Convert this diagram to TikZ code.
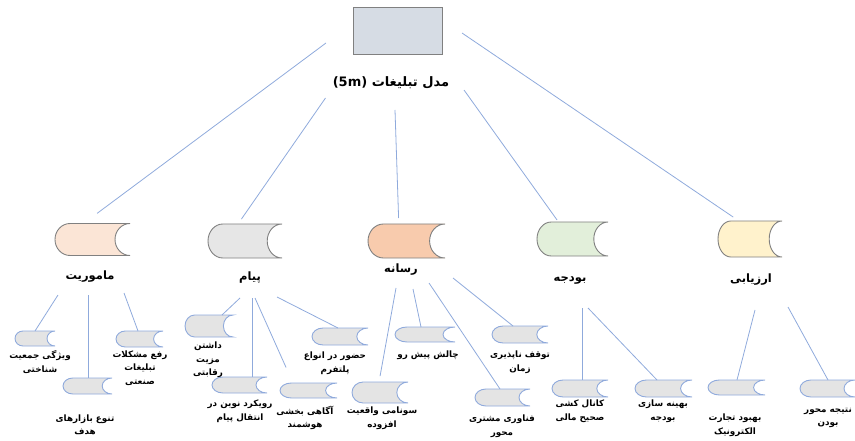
\documentclass[tikz,border=0pt]{standalone}
\usepackage{fontspec}
\usepackage{tikz}
\usetikzlibrary{positioning,calc}
\TeXXeTstate=1
\newfontfamily\fafont[Script=Arabic]{DejaVu Sans}
\newcommand{\fa}[1]{\beginR #1\endR}

\definecolor{linkblue}{HTML}{8FAADC}
\definecolor{topgray}{HTML}{D6DCE4}
\definecolor{subgray}{HTML}{E4E4E4}
\definecolor{mamfill}{HTML}{FBE5D6}
\definecolor{payfill}{HTML}{E6E6E6}
\definecolor{resfill}{HTML}{F8CBAD}
\definecolor{budfill}{HTML}{E2EFDA}
\definecolor{arzfill}{HTML}{FFF2CC}

\tikzset{
  link/.style={draw=linkblue, line width=0.8pt},
  topbox/.style={draw=black!50, fill=topgray, line width=1pt},
  catshape/.style={draw=black!50, line width=0.9pt},
  subshape/.style={draw=linkblue, fill=subgray, line width=0.9pt},
  sdbox/.style={inner sep=0pt, outer sep=0pt},
  catlabel/.style={font=\fafont\bfseries\fontsize{11.5}{13}\selectfont},
  sublabel/.style={font=\fafont\bfseries\fontsize{8.8}{13.5}\selectfont, align=center},
}

% stored data shape: name, x, y, width, height, style
\newcommand{\stored}[6]{%
  \node[sdbox, minimum width=#4pt, minimum height=#5pt] (#1) at (#2,#3) {};
  \draw[#6] ($(#1.north west)+({0.2*#4},0)$) -- (#1.north east)
    arc[start angle=90, end angle=270, x radius={0.2*#4pt}, y radius={#5pt/2}]
    -- ($(#1.south west)+({0.2*#4},0)$)
    arc[start angle=270, end angle=90, x radius={0.2*#4pt}, y radius={#5pt/2}] -- cycle;
}

\begin{document}
\begin{tikzpicture}[x=1pt, y=1pt]
  \useasboundingbox (0,0) rectangle (855,440);

  % Top of the model
  \node[topbox, minimum width=89pt, minimum height=47pt] (model) at (397.5,408.5) {};
  \node[catlabel, font=\fafont\bfseries\fontsize{13}{15}\selectfont] (title) at (391,357) {(5m) \fa{مدل تبلیغات}};

  % Five parts
  \stored{mam}{92.5}{200.5}{75}{32}{catshape, fill=mamfill}
  \stored{pay}{245}{199}{74}{34}{catshape, fill=payfill}
  \stored{res}{406.5}{199}{77}{34}{catshape, fill=resfill}
  \stored{bud}{572.5}{201}{71}{34}{catshape, fill=budfill}
  \stored{arz}{750}{201}{64}{36}{catshape, fill=arzfill}

  \node[catlabel] (mamlbl) at (90,163) {\fa{ماموریت}};
  \node[catlabel] (paylbl) at (250,162) {\fa{پیام}};
  \node[catlabel] (reslbl) at (401,170) {\fa{رسانه}};
  \node[catlabel] (budlbl) at (570,159) {\fa{بودجه}};
  \node[catlabel] (arzlbl) at (751,160) {\fa{ارزیابی}};

  % Links from the top
  \coordinate (t1) at (326,397);
  \coordinate (t2) at (325.5,342);
  \coordinate (t3) at (395,330);
  \coordinate (t4) at (464,350);
  \coordinate (t5) at (462,407);
  \draw[link, shorten >=17pt] (t1) -- ([xshift=-9pt]mam.north);
  \draw[link, shorten >=6pt] (t2) -- ([xshift=-7pt]pay.north);
  \draw[link, shorten >=6pt] (t3) -- ([xshift=-7.7pt]res.north);
  \draw[link, shorten >=2.5pt] (t4) -- ([xshift=-14pt]bud.north);
  \draw[link, shorten >=7pt] (t5) -- ([xshift=-11pt]arz.north);

  % Mission
  \stored{mam1}{35}{101.5}{40}{15}{subshape}
  \stored{mam2}{87.5}{54}{49}{16}{subshape}
  \stored{mam3}{139.5}{101}{47}{16}{subshape}
  \node[sublabel] (mam1lbl) at (40,78) {\fa{ویژگی جمعیت}\\\fa{شناختی}};
  \node[sublabel] (mam2lbl) at (85,15) {\fa{تنوع بازارهای}\\\fa{هدف}};
  \node[sublabel] (mam3lbl) at (140,72) {\fa{رفع مشکلات}\\\fa{تبلیغات}\\\fa{صنعتی}};
  \coordinate (m1) at (58,145);
  \coordinate (m2) at (88,145);
  \coordinate (m3) at (124,147);
  \draw[link] (m1) -- (mam1.north);
  \draw[link] (m2) -- ([xshift=0.5pt]mam2.north);
  \draw[link] (m3) -- ([xshift=-1.5pt]mam3.north);

  % Message
  \stored{pay1}{209}{114}{48}{22}{subshape}
  \stored{pay2}{239.5}{55}{55}{16}{subshape}
  \stored{pay3}{308.5}{49.5}{57}{15}{subshape}
  \stored{pay4}{340}{103.5}{56}{17}{subshape}
  \node[sublabel] (pay1lbl) at (208,80) {\fa{داشتن}\\\fa{مزیت}\\\fa{رقابتی}};
  \node[sublabel] (pay2lbl) at (240,29) {\fa{رویکرد نوین در}\\\fa{انتقال پیام}};
  \node[sublabel] (pay3lbl) at (305,22) {\fa{آگاهی بخشی}\\\fa{هوشمند}};
  \node[sublabel] (pay4lbl) at (335,77) {\fa{حضور در انواع}\\\fa{پلتفرم}};
  \coordinate (p1) at (240,142);
  \coordinate (p2) at (252,142);
  \coordinate (p3) at (255,142);
  \coordinate (p4) at (277,143);
  \draw[link] (p1) -- ([xshift=13pt]pay1.north);
  \draw[link] (p2) -- ([xshift=12.5pt]pay2.north);
  \draw[link, shorten >=17pt] (p3) -- ([xshift=-15.5pt]pay3.north);
  \draw[link] (p4) -- ([xshift=-2pt]pay4.north);

  % Media
  \stored{res1}{425}{105.5}{60}{15}{subshape}
  \stored{res2}{520}{105.5}{56}{17}{subshape}
  \stored{res3}{380}{47.5}{56}{21}{subshape}
  \stored{res4}{502.5}{42.5}{55}{17}{subshape}
  \node[sublabel] (res1lbl) at (428,85) {\fa{چالش پیش رو}};
  \node[sublabel] (res2lbl) at (520,78) {\fa{توقف ناپذیری}\\\fa{زمان}};
  \node[sublabel] (res3lbl) at (382,22) {\fa{سونامی واقعیت}\\\fa{افزوده}};
  \node[sublabel] (res4lbl) at (502,14) {\fa{فناوری مشتری}\\\fa{محور}};
  \coordinate (r1) at (413,151);
  \coordinate (r2) at (453,162);
  \coordinate (r3) at (396,152);
  \coordinate (r4) at (429,157);
  \draw[link] (r1) -- ([xshift=-4pt]res1.north);
  \draw[link] (r2) -- ([xshift=-7pt]res2.north);
  \draw[link, shorten >=6pt] (r3) -- ([xshift=-1pt]res3.north);
  \draw[link] (r4) -- ([xshift=-2.5pt]res4.north);

  % Budget
  \stored{bud1}{580}{51.5}{56}{17}{subshape}
  \stored{bud2}{663.5}{51.5}{57}{17}{subshape}
  \node[sublabel] (bud1lbl) at (580,29) {\fa{کانال کشی}\\\fa{صحیح مالی}};
  \node[sublabel] (bud2lbl) at (663,29) {\fa{بهینه سازی}\\\fa{بودجه}};
  \coordinate (b1) at (582,132);
  \coordinate (b2) at (588,132);
  \draw[link] (b1) -- ([xshift=2pt]bud1.north);
  \draw[link] (b2) -- ([xshift=-6.5pt]bud2.north);

  % Evaluation
  \stored{arz1}{736.5}{52.5}{57}{15}{subshape}
  \stored{arz2}{827.5}{51.5}{55}{17}{subshape}
  \node[sublabel] (arz1lbl) at (735,15) {\fa{بهبود تجارت}\\\fa{الکترونیک}};
  \node[sublabel] (arz2lbl) at (828,22) {\fa{نتیجه محور}\\\fa{بودن}};
  \coordinate (a1) at (755,130);
  \coordinate (a2) at (788,133);
  \draw[link] (a1) -- ([xshift=0.5pt]arz1.north);
  \draw[link] (a2) -- ([xshift=0.5pt]arz2.north);
\end{tikzpicture}
\end{document}
